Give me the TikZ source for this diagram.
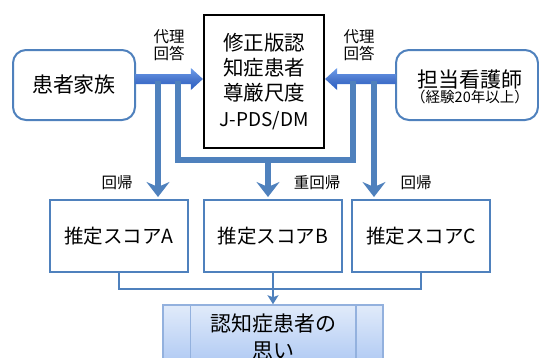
\documentclass[tikz,border=0pt]{standalone}
\usepackage{fontspec}
\setmainfont{Noto Sans CJK JP}
\usetikzlibrary{arrows.meta,calc,shapes.misc}
\definecolor{lineblue}{HTML}{4F81BD}
\definecolor{arrtop}{HTML}{6E9DEB}
\definecolor{arrbot}{HTML}{2A5FC4}
\definecolor{gtop}{HTML}{E1EBFA}
\definecolor{gbot}{HTML}{A6C3F2}
\definecolor{gdraw}{HTML}{93B1DE}
\tikzset{
  rbox/.style={draw=lineblue, line width=2pt, rounded corners=13pt, fill=white, inner sep=0pt},
  cbox/.style={draw=black, line width=2.2pt, fill=white, inner sep=0pt, align=center},
  sbox/.style={draw=lineblue, line width=2pt, fill=white, minimum width=138pt, minimum height=72pt, inner sep=0pt,
    font=\fontsize{19.5}{23}\selectfont},
  lbl/.style={inner sep=0pt, align=center, font=\fontsize{15.5}{17.5}\selectfont},
  flowline/.style={draw=lineblue, line width=6pt},
  flow/.style={flowline, -{Stealth[length=15pt,width=23pt,inset=5pt]}, shorten >=2pt},
  thinline/.style={draw=lineblue, line width=2.5pt},
  thinflow/.style={thinline, -{Stealth[length=9pt,width=11pt,inset=2pt]}},
  bigarrow/.style={top color=arrtop, bottom color=arrbot, middle color=arrbot!85!white}
}
\begin{document}
\begin{tikzpicture}[x=1pt,y=1pt]
\useasboundingbox (0,0) rectangle (539,-357);
\clip (0,0) rectangle (539,-357);

% nodes
\node[rbox, minimum width=122pt, minimum height=70pt, font=\fontsize{21}{24}\selectfont] (fam) at (74,-85) {患者家族};
\node[rbox, minimum width=142pt, minimum height=70pt] (nurse) at (467,-85) {};
\node[inner sep=0pt, align=center] (nt) at (470,-87)
  {\fontsize{21}{24}\selectfont 担当看護師\\[0pt]\fontsize{14.5}{16}\selectfont（経験20年以上）};
\node[cbox, minimum width=120pt, minimum height=133pt, font=\fontsize{20.5}{25}\selectfont] (scale) at (264,-81.5)
  {修正版認\\知症患者\\尊厳尺度\\[1pt]\fontsize{19}{22}\selectfont J-PDS/DM};

\node[sbox] (A) at (119,-236) {推定スコアA};
\node[sbox] (B) at (273,-236) {推定スコアB};
\node[sbox] (C) at (421,-236) {推定スコアC};

\node[draw=gdraw, line width=1.5pt, top color=gtop, bottom color=gbot, minimum width=220pt, minimum height=70pt, inner sep=0pt] (G) at (273,-340) {};
\draw[gdraw, line width=1.5pt] ([xshift=28pt]G.north west) -- ([xshift=28pt]G.south west);
\draw[gdraw, line width=1.5pt] ([xshift=-28pt]G.north east) -- ([xshift=-28pt]G.south east);
\node[inner sep=0pt, align=center, font=\fontsize{21}{27}\selectfont] (Gt) at (273,-337) {認知症患者の\\思い};

% labels
\node[lbl] (l1) at (169,-45) {代理\\回答};
\node[lbl] (l2) at (359,-45) {代理\\回答};
\node[lbl] (r1) at (117,-183) {回帰};
\node[lbl] (r2) at (317,-183) {重回帰};
\node[lbl] (r3) at (416,-183) {回帰};

% thick arrows
\coordinate (ay) at (0,-79);
\coordinate (L0) at (fam.east |- ay);
\coordinate (L1) at (scale.west |- ay);
\shade[bigarrow] ($(L0)+(-1,5)$) -- ($(L1)+(-12,5)$) -- ($(L1)+(-12,11)$) -- (L1) -- ($(L1)+(-12,-11)$) -- ($(L1)+(-12,-5)$) -- ($(L0)+(-1,-5)$) -- cycle;
\coordinate (R0) at (nurse.west |- ay);
\coordinate (R1) at (scale.east |- ay);
\shade[bigarrow] ($(R0)+(1,5)$) -- ($(R1)+(12,5)$) -- ($(R1)+(12,11)$) -- (R1) -- ($(R1)+(12,-11)$) -- ($(R1)+(12,-5)$) -- ($(R0)+(1,-5)$) -- cycle;

% thin flows
\coordinate (v1) at (158,-81);
\coordinate (v2) at (178,-81);
\coordinate (v3) at (353,-81);
\coordinate (v4) at (374,-81);
\coordinate (hy) at (0,-160);
\coordinate (vb) at (268,-160);
\draw[flow] (v1) -- (v1 |- A.north);
\draw[flowline, line join=miter] (v2) -- (v2 |- hy) -- (v3 |- hy) -- (v3);
\draw[flow] (vb) -- (vb |- B.north);
\draw[flow] (v4) -- (v4 |- C.north);

% bottom connectors
\draw[thinline] (A.south) -- ++(0,-16) -| (C.south);
\draw[thinflow] (B.south) -- (B.south |- G.north);
\end{tikzpicture}
\end{document}
